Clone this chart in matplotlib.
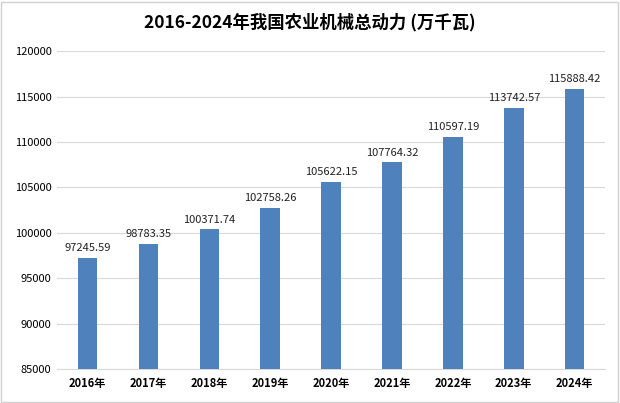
import matplotlib
matplotlib.use("Agg")
import matplotlib.pyplot as plt
from matplotlib.patches import Rectangle

plt.rcParams['font.family'] = ['Noto Sans CJK SC', 'DejaVu Sans']

years = ["2016年", "2017年", "2018年", "2019年", "2020年", "2021年", "2022年", "2023年", "2024年"]
values = [97245.59, 98783.35, 100371.74, 102758.26, 105622.15, 107764.32, 110597.19, 113742.57, 115888.42]
yticks = [85000, 90000, 95000, 100000, 105000, 110000, 115000, 120000]

fig = plt.figure(figsize=(6.2, 4.03), dpi=100)
ax = fig.add_axes([0.092, 0.084, 0.884, 0.789])

x = list(range(len(years)))
ax.bar(x, values, width=0.32, color="#4F81BD", zorder=3)
for xi, v in zip(x, values):
    ax.text(xi, v + 500, f"{v:.2f}", ha="center", va="bottom", fontsize=8, color="#222222", zorder=4)

ax.set_ylim(85000, 120000)
ax.set_yticks(yticks)
ax.set_yticklabels([str(t) for t in yticks], fontsize=8)
ax.set_xlim(-0.5, len(years) - 0.5)
ax.set_xticks(x)
ax.set_xticklabels(years, fontsize=8, fontweight="bold")
ax.grid(axis="y", color="#D9D9D9", linewidth=0.8, zorder=0)
for s in ["top", "right", "left"]:
    ax.spines[s].set_visible(False)
ax.spines["bottom"].set_color("#D9D9D9")
ax.tick_params(axis="both", length=0, pad=6)
ax.tick_params(axis="y", pad=4)

fig.text(0.5, 0.945, "2016-2024年我国农业机械总动力 (万千瓦)", ha="center", va="center",
         fontsize=12.5, fontweight="bold")
fig.patches.append(Rectangle((0.002, 0.003), 0.995, 0.993, transform=fig.transFigure,
                             fill=False, edgecolor="#D0D0D0", linewidth=1))

fig.savefig("out.png", dpi=100)
